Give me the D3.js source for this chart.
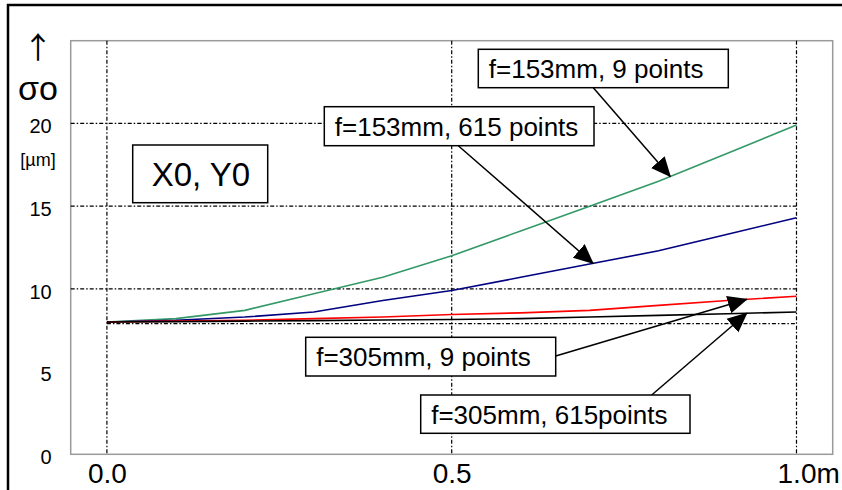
<!DOCTYPE html>
<html>
<head>
<meta charset="utf-8">
<script src="https://cdn.jsdelivr.net/npm/d3@7"></script>
<style>
  html, body { margin: 0; padding: 0; background: #fff; }
  svg { display: block; font-family: Arial, "Liberation Sans", sans-serif; }
</style>
</head>
<body>
<svg id="chart" width="842" height="490"></svg>
<script>
// Position along the field (m)
const positions = [0.0, 0.1, 0.2, 0.3, 0.4, 0.5, 0.6, 0.7, 0.8, 0.9, 1.0];

// Standard deviation σo [µm] for each configuration
const f153_9pts   = [8.0, 8.2, 8.7, 9.7, 10.7, 12.0, 13.5, 15.0, 16.5, 18.2, 19.9];
const f153_615pts = [8.0, 8.1, 8.3, 8.6, 9.3, 9.9, 10.7, 11.5, 12.3, 13.3, 14.3];
const f305_9pts   = [8.0, 8.05, 8.1, 8.2, 8.3, 8.45, 8.55, 8.7, 9.0, 9.3, 9.55];
const f305_615pts = [8.0, 8.02, 8.05, 8.08, 8.12, 8.15, 8.2, 8.3, 8.4, 8.5, 8.6];

const seriesNames  = ["f=153mm, 9 points", "f=153mm, 615 points", "f=305mm, 9 points", "f=305mm, 615points"];
const seriesColors = ["#339966", "#000080", "#ff0000", "#000000"];

const yTicks = [0, 5, 10, 15, 20];
const yGrid = [10, 15, 20];
const yRefLine = 7.9;
const xTicks = [0.0, 0.5, 1.0];
const xTickLabels = ["0.0", "0.5", "1.0m"];

const svg = d3.select("#chart");

// Outer frame (runs off the right and bottom edges)
svg.append("rect")
  .attr("x", 8).attr("y", 5).attr("width", 900).attr("height", 600)
  .attr("fill", "#fff").attr("stroke", "#000").attr("stroke-width", 2.5);

const plot = { left: 70.7, top: 40.7, right: 832.7, bottom: 454.3 };

const x = d3.scaleLinear().domain([-0.0525, 1.0525]).range([plot.left, plot.right]);
const y = d3.scaleLinear().domain([0, 25]).range([plot.bottom, plot.top]);

// Plot area border
svg.append("rect")
  .attr("x", plot.left).attr("y", plot.top)
  .attr("width", plot.right - plot.left).attr("height", plot.bottom - plot.top)
  .attr("fill", "none").attr("stroke", "#9a9a9a").attr("stroke-width", 1.5);

const dashDot = "4,2,1.5,2";

// Horizontal grid
svg.append("g").selectAll("line").data(yGrid).join("line")
  .attr("x1", plot.left).attr("x2", x(1))
  .attr("y1", d => y(d)).attr("y2", d => y(d))
  .attr("stroke", "#000").attr("stroke-width", 1.2).attr("stroke-dasharray", dashDot);

svg.append("line")
  .attr("x1", x(0)).attr("x2", x(1))
  .attr("y1", y(yRefLine)).attr("y2", y(yRefLine))
  .attr("stroke", "#000").attr("stroke-width", 1.2).attr("stroke-dasharray", dashDot);

// Vertical grid
svg.append("g").selectAll("line").data(xTicks).join("line")
  .attr("x1", d => x(d)).attr("x2", d => x(d))
  .attr("y1", plot.top).attr("y2", plot.bottom)
  .attr("stroke", "#000").attr("stroke-width", 1.2).attr("stroke-dasharray", dashDot);

// Y axis labels
const yAxis = d3.axisLeft(y).tickValues(yTicks).tickSize(0).tickPadding(19).tickFormat(d3.format("d"));
const gy = svg.append("g").attr("transform", `translate(${plot.left},3)`).call(yAxis);
gy.select(".domain").remove();
gy.attr("font-size", 20).attr("font-family", "Arial, 'Liberation Sans', sans-serif");
gy.selectAll("text").attr("fill", "#000");

// X axis labels
const xAxis = d3.axisBottom(x).tickValues(xTicks).tickSize(0).tickPadding(9)
  .tickFormat((d, i) => xTickLabels[i]);
const gx = svg.append("g").attr("transform", `translate(0,${plot.bottom})`).call(xAxis);
gx.select(".domain").remove();
gx.attr("font-size", 28).attr("font-family", "Arial, 'Liberation Sans', sans-serif");
gx.selectAll("text").attr("fill", "#000");
// keep "1.0" centred on its gridline, with the unit trailing
gx.selectAll("text").filter((d, i) => i === xTicks.length - 1).each(function () {
  const w = this.getSubStringLength(0, 3);
  d3.select(this).attr("text-anchor", "start").attr("x", -w / 2);
});

// Y axis title
svg.append("text").attr("x", 38).attr("y", 58).attr("text-anchor", "middle")
  .attr("font-size", 30).attr("font-family", "'Noto Sans CJK JP', sans-serif").text("↑");
svg.append("text").attr("x", 38).attr("y", 100).attr("text-anchor", "middle")
  .attr("font-size", 34).text("σo");
svg.append("text").attr("x", 38).attr("y", 166).attr("text-anchor", "middle")
  .attr("font-size", 18).text("[µm]");

// Data lines
const allSeries = [f153_9pts, f153_615pts, f305_9pts, f305_615pts];
const line = d3.line().x((d, i) => x(positions[i])).y(d => y(d));
svg.append("g").selectAll("path").data(allSeries).join("path")
  .attr("d", line)
  .attr("fill", "none")
  .attr("stroke", (d, i) => seriesColors[i])
  .attr("stroke-width", 1.6);

// Arrowhead
svg.append("defs").append("marker")
  .attr("id", "head").attr("markerUnits", "userSpaceOnUse")
  .attr("viewBox", "0 -10 20 20").attr("refX", 19).attr("refY", 0)
  .attr("markerWidth", 20).attr("markerHeight", 20).attr("orient", "auto")
  .append("path").attr("d", "M0,-9L20,0L0,9Z").attr("fill", "#000");

// Callouts: label box and arrow to the curve
const callouts = [
  { label: seriesNames[0], box: [478.3, 49.3, 250, 38.4], from: [593.3, 87.7], tip: [0.817, f153_9pts] },
  { label: seriesNames[1], box: [324.3, 106.7, 269.7, 39], from: [458.3, 145.7], tip: [0.705, f153_615pts] },
  { label: seriesNames[2], box: [305.7, 337.3, 250, 38.7], from: [555.7, 356], tip: [0.928, f305_9pts] },
  { label: seriesNames[3], box: [420.7, 395, 269.3, 38.3], from: [651.7, 395], tip: [0.928, f305_615pts] }
];

function valueAt(series, xv) {
  const i = Math.min(positions.length - 2, Math.floor(xv * 10));
  const t = (xv - positions[i]) / (positions[i + 1] - positions[i]);
  return series[i] + t * (series[i + 1] - series[i]);
}

callouts.forEach(c => {
  const tx = x(c.tip[0]), ty = y(valueAt(c.tip[1], c.tip[0]));
  svg.append("line")
    .attr("x1", c.from[0]).attr("y1", c.from[1]).attr("x2", tx).attr("y2", ty)
    .attr("stroke", "#000").attr("stroke-width", 1.5).attr("marker-end", "url(#head)");
});

callouts.forEach(c => {
  const [bx, by, bw, bh] = c.box;
  svg.append("rect").attr("x", bx).attr("y", by).attr("width", bw).attr("height", bh)
    .attr("fill", "#fff").attr("stroke", "#000").attr("stroke-width", 1.5);
  svg.append("text").attr("x", bx + 10.5).attr("y", by + bh / 2).attr("dy", "0.36em")
    .attr("font-size", 26).text(c.label);
});

// Position tag
svg.append("rect").attr("x", 132.7).attr("y", 145).attr("width", 135).attr("height", 57.7)
  .attr("fill", "#fff").attr("stroke", "#000").attr("stroke-width", 1.5);
svg.append("text").attr("x", 151.7).attr("y", 173.8).attr("dy", "0.36em")
  .attr("font-size", 33).text("X0, Y0");
</script>
</body>
</html>
